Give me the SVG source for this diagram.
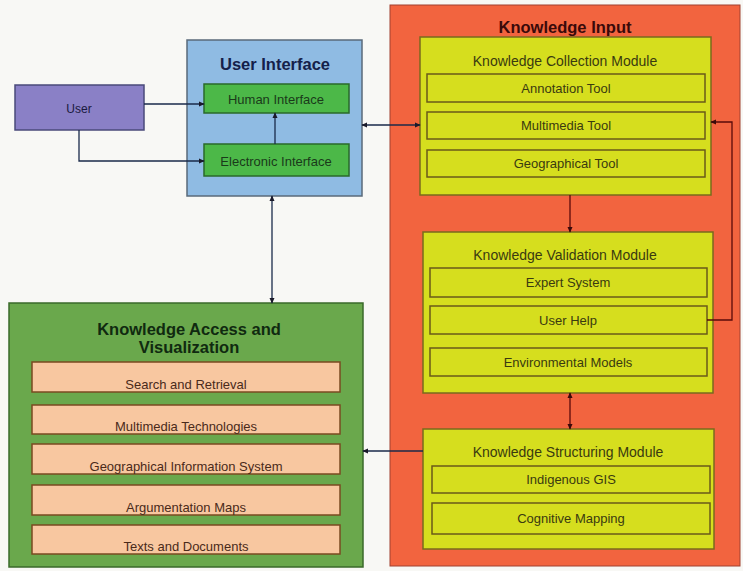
<svg xmlns="http://www.w3.org/2000/svg" width="743" height="571" viewBox="0 0 743 571">
<defs>
<marker id="ah" viewBox="0 0 8 8" refX="7" refY="4" markerWidth="6" markerHeight="6" orient="auto-start-reverse" markerUnits="userSpaceOnUse">
<path d="M0,0.5 L8,4 L0,7.5 Z" fill="#1a1a2a"/>
</marker>
<marker id="ahr" viewBox="0 0 8 8" refX="7" refY="4" markerWidth="6" markerHeight="6" orient="auto-start-reverse" markerUnits="userSpaceOnUse">
<path d="M0,0.5 L8,4 L0,7.5 Z" fill="#3a0a0a"/>
</marker>
</defs>
<style>
text{font-family:"Liberation Sans",Arial,sans-serif;text-anchor:middle}
.title{font-size:16.5px;font-weight:bold}
.mod{font-size:14px;fill:#3a3a10}
.item{font-size:13px;fill:#3a3a10}
.kitem{font-size:13px;fill:#4a2a1a}
.yel{fill:#d6de1e;stroke:#7a6a1e;stroke-width:1.5}
.yitem{fill:#d6de1e;stroke:#6a5a1a;stroke-width:1.5}
.peach{fill:#f8c7a0;stroke:#7a4a20;stroke-width:1.5}
.grn{fill:#4cb848;stroke:#2a6a2a;stroke-width:1.5}
.conn{fill:none;stroke:#1a2a4a;stroke-width:1.3}
.connr{fill:none;stroke:#5a0a0a;stroke-width:1.3}
</style>
<rect width="743" height="571" fill="#f8f8f5"/>

<g id="knowledge-input">
<rect x="390" y="5" width="350" height="561" fill="#f2643f" stroke="#a04030" stroke-width="1"/>
<text class="title" x="565" y="33" fill="#3a0a0a">Knowledge Input</text>
</g>

<g id="knowledge-collection">
<rect class="yel" x="420" y="37" width="291" height="158"/>
<text class="mod" x="565" y="66">Knowledge Collection Module</text>
<rect class="yitem" x="427" y="74" width="278" height="28"/>
<text class="item" x="566" y="93">Annotation Tool</text>
<rect class="yitem" x="427" y="112" width="278" height="27"/>
<text class="item" x="566" y="130">Multimedia Tool</text>
<rect class="yitem" x="427" y="150" width="278" height="27"/>
<text class="item" x="566" y="168">Geographical Tool</text>
</g>

<g id="knowledge-validation">
<rect class="yel" x="423" y="232" width="290" height="161"/>
<text class="mod" x="565" y="260">Knowledge Validation Module</text>
<rect class="yitem" x="430" y="268" width="277" height="29"/>
<text class="item" x="568" y="287">Expert System</text>
<rect class="yitem" x="430" y="306" width="277" height="28"/>
<text class="item" x="568" y="325">User Help</text>
<rect class="yitem" x="430" y="348" width="277" height="28"/>
<text class="item" x="568" y="367">Environmental Models</text>
</g>

<g id="knowledge-structuring">
<rect class="yel" x="423" y="429" width="291" height="120"/>
<text class="mod" x="568" y="457">Knowledge Structuring Module</text>
<rect class="yitem" x="432" y="466" width="278" height="27"/>
<text class="item" x="571" y="484">Indigenous GIS</text>
<rect class="yitem" x="432" y="503" width="278" height="31"/>
<text class="item" x="571" y="523">Cognitive Mapping</text>
</g>

<g id="user">
<rect x="15" y="85" width="129" height="45" fill="#8a80c6" stroke="#4a4a7a" stroke-width="1.5"/>
<text x="79" y="113" font-size="12" fill="#1a1a40">User</text>
</g>

<g id="user-interface">
<rect x="187" y="40" width="175" height="156" fill="#8fbbe3" stroke="#5a6a7a" stroke-width="1.5"/>
<text class="title" x="275" y="70" fill="#14204a">User Interface</text>
</g>

<g id="human-interface">
<rect class="grn" x="204" y="84" width="145" height="29"/>
<text x="276" y="104" font-size="13" fill="#1a3a1a">Human Interface</text>
</g>

<g id="electronic-interface">
<rect class="grn" x="204" y="144" width="145" height="32"/>
<text x="276" y="166" font-size="13" fill="#1a3a1a">Electronic Interface</text>
</g>

<g id="knowledge-access">
<rect x="9" y="303" width="354" height="264" fill="#6aa84c" stroke="#3a6a2a" stroke-width="1.5"/>
<text class="title" x="189" y="335" fill="#102a10">Knowledge Access and</text>
<text class="title" x="189" y="353" fill="#102a10">Visualization</text>
<rect class="peach" x="32" y="362" width="308" height="30"/>
<text class="kitem" x="186" y="389">Search and Retrieval</text>
<rect class="peach" x="32" y="405" width="308" height="29"/>
<text class="kitem" x="186" y="431">Multimedia Technologies</text>
<rect class="peach" x="32" y="444" width="308" height="30"/>
<text class="kitem" x="186" y="471">Geographical Information System</text>
<rect class="peach" x="32" y="485" width="308" height="30"/>
<text class="kitem" x="186" y="512">Argumentation Maps</text>
<rect class="peach" x="32" y="525" width="308" height="29"/>
<text class="kitem" x="186" y="551">Texts and Documents</text>
</g>

<g id="connectors">
<path class="conn" d="M144,104 H204" marker-end="url(#ah)"/>
<path class="conn" d="M79,130 V161 H204" marker-end="url(#ah)"/>
<path class="conn" d="M275,144 V113" marker-end="url(#ah)"/>
<path class="conn" d="M362,125 H420" marker-start="url(#ah)" marker-end="url(#ah)"/>
<path class="conn" d="M272,196 V303" marker-start="url(#ah)" marker-end="url(#ah)"/>
<path class="connr" d="M570,195 V232" marker-end="url(#ahr)"/>
<path class="connr" d="M707,320 H732 V122 H711" marker-end="url(#ahr)"/>
<path class="connr" d="M570,393 V429" marker-start="url(#ahr)" marker-end="url(#ahr)"/>
<path class="conn" d="M423,451 H363" marker-end="url(#ah)"/>
</g>
</svg>
